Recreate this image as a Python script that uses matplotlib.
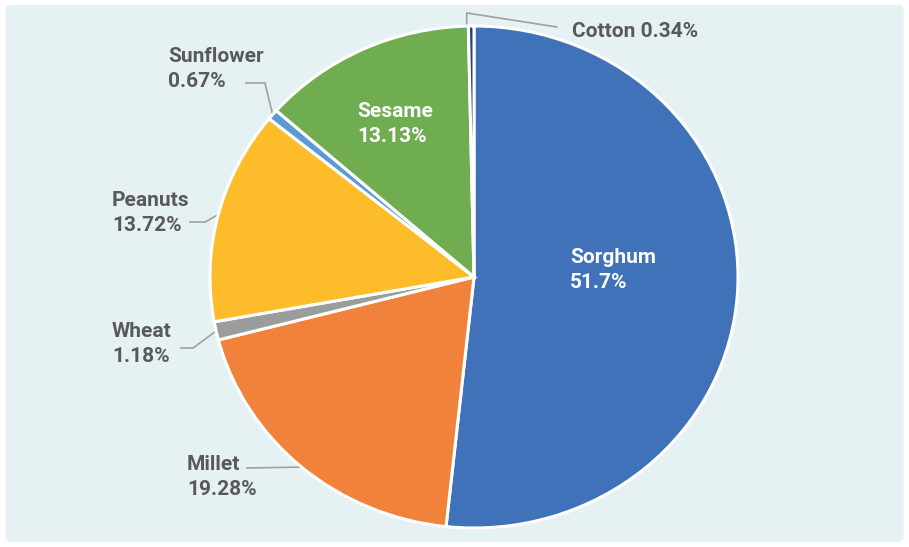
import numpy as np
import matplotlib
matplotlib.use('Agg')
import matplotlib.pyplot as plt
from matplotlib.patches import FancyBboxPatch

# data
crops = ['Sorghum', 'Millet', 'Wheat', 'Peanuts', 'Sunflower', 'Sesame', 'Cotton']
shares = [51.7, 19.28, 1.18, 13.72, 0.67, 13.13, 0.34]
labels = ['51.7%', '19.28%', '1.18%', '13.72%', '0.67%', '13.13%', '0.34%']
colors = ['#4072b9', '#f1823b', '#9b9d9d', '#fdbc2a', '#5b9bd5', '#70ad50', '#264478']

plt.rcParams['font.family'] = ['Roboto', 'DejaVu Sans']

fig = plt.figure(figsize=(9.09, 5.47), dpi=100, facecolor='white')
bg = FancyBboxPatch((0.006, 0.009), 0.988, 0.982, boxstyle='round,pad=0,rounding_size=0.008',
                    transform=fig.transFigure, facecolor='#e6f1f3', edgecolor='none', zorder=-10)
fig.patches.append(bg)

ax = fig.add_axes([210 / 909, 19 / 547, 528 / 909, 502 / 547])
ax.set_facecolor('none')
wedges, _ = ax.pie(shares, colors=colors, startangle=90, counterclock=False,
                   wedgeprops=dict(edgecolor='white', linewidth=2.2))
ax.set_xlim(-1, 1)
ax.set_ylim(-1, 1)
ax.set_aspect('auto')
ax.axis('off')

txt_gray = '#595959'
line_gray = '#a0a0a0'
fs = 15

# label placement (text anchor, elbow points of leader)
inside = {'Sorghum': (0.364, 0.028), 'Sesame': (-0.443, 0.61)}
outside = {
    'Sunflower': ((-1.159, 0.829), [(-0.864, 0.773), (-0.792, 0.773)]),
    'Peanuts': ((-1.371, 0.255), [(-1.076, 0.219), (-1.019, 0.219)]),
    'Wheat': ((-1.371, -0.267), [(-1.11, -0.283), (-1.064, -0.283)]),
    'Millet': ((-1.087, -0.797), [(-0.86, -0.761)]),
}

for w, name, lab in zip(wedges, crops, labels):
    mid = np.deg2rad((w.theta1 + w.theta2) / 2)
    edge = (np.cos(mid), np.sin(mid))
    if name in inside:
        x, y = inside[name]
        ax.text(x, y, f'{name}\n{lab}', color='white', fontsize=fs, fontweight='bold',
                ha='left', va='center', linespacing=1.35, clip_on=False)
    elif name in outside:
        (x, y), elbow = outside[name]
        ax.text(x, y, f'{name}\n{lab}', color=txt_gray, fontsize=fs, fontweight='bold',
                ha='left', va='center', linespacing=1.35, clip_on=False)
        pts = elbow + [edge]
        ax.plot([p[0] for p in pts], [p[1] for p in pts], color=line_gray, lw=1.2,
                clip_on=False, zorder=0.5)
    else:
        ax.text(0.371, 0.98, f'{name} {lab}', color=txt_gray, fontsize=fs, fontweight='bold',
                ha='left', va='center', clip_on=False)
        pts = [(0.314, 0.996), (edge[0] - 0.017, 1.052), (edge[0] - 0.017, 0.996)]
        ax.plot([p[0] for p in pts], [p[1] for p in pts], color=line_gray, lw=1.2,
                clip_on=False, zorder=0.5)

fig.savefig('out.png', dpi=100, facecolor='white')
